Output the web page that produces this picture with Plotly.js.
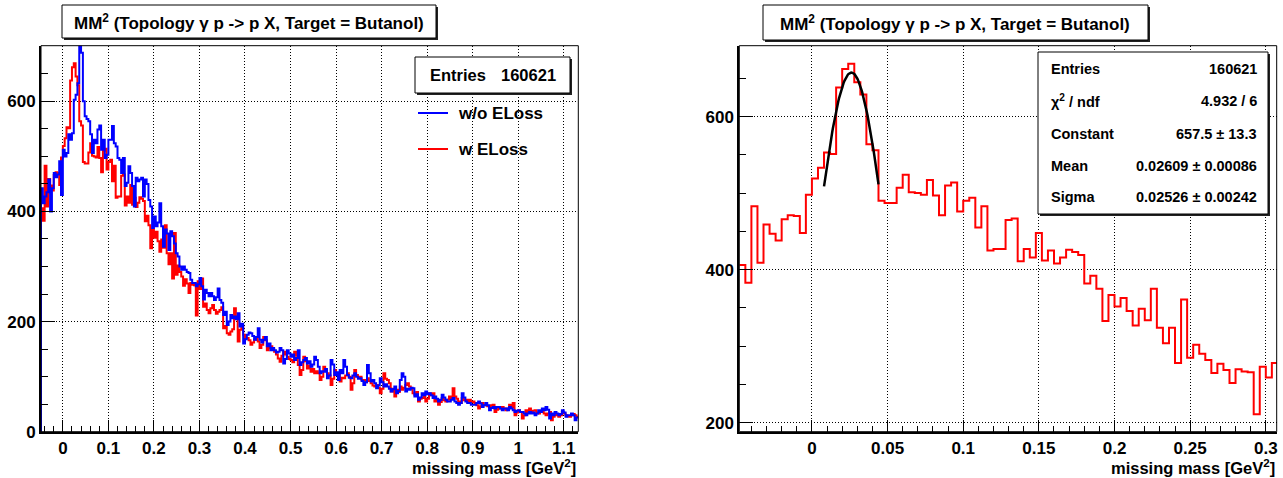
<!DOCTYPE html>
<html>
<head>
<meta charset="utf-8">
<script src="https://cdn.plot.ly/plotly-3.0.1.min.js"></script>
<style>
html,body{margin:0;padding:0;background:#fff;}
#chart{width:1283px;height:478px;}
</style>
</head>
<body>
<div id="chart"></div>
<script>
// ---------------- DATA ----------------
const binLo = -0.048;
const binWidth = 0.004;

// "w ELoss" (red) histogram counts, 295 bins from binLo
const countsWithELoss = [
406,383,483,409,459,447,438,466,471,470,
448,498,519,533,553,551,638,662,669,645,
629,564,556,490,487,487,507,524,501,500,
498,517,497,471,510,514,476,490,494,455,
483,425,427,427,465,467,411,427,416,448,
412,425,408,416,426,423,419,382,392,375,
333,367,352,363,346,327,349,334,375,324,
304,324,278,361,285,302,290,282,265,277,
269,252,270,267,266,211,273,259,278,
227,233,221,215,
224,230,221,214,218,221,226,188,192,179,
176,182,186,224,206,164,185,190,176,170,
170,166,158,162,167,172,164,152,158,172,
166,148,152,155,150,145,140,133,127,138,
145,140,136,132,130,126,145,138,121,103,
112,136,128,115,120,109,114,106,110,106,
94,100,118,112,106,102,85,96,112,106,
103,91,98,97,102,106,100,76,88,112,
103,98,100,94,94,90,97,92,88,84,
82,85,80,70,78,106,96,94,88,73,
78,64,76,72,
82,76,80,85,88,82,78,70,67,72,
55,60,61,66,55,60,70,66,70,55,
58,49,54,61,57,55,58,64,60,79,
64,60,55,52,61,57,58,55,58,54,
55,52,48,42,46,52,48,49,46,45,
48,49,36,40,42,45,45,42,39,42,
49,45,52,30,35,39,36,24,30,39,
36,42,36,38,39,35,33,36,36,33,
30,33,36,21,27,30,32,27,30,36,
33,30,28,27,30,32,30,27
];

// "w/o ELoss" (blue) histogram counts, 295 bins from binLo
const countsWithoutELoss = [
442,415,427,435,458,400,442,470,462,467,
491,430,512,500,506,540,530,542,603,612,
633,705,688,600,573,568,564,540,506,530,
524,549,556,512,530,497,503,530,530,555,
524,518,497,494,470,497,446,452,482,470,
446,409,461,455,458,461,427,458,450,421,
409,370,391,373,380,415,373,336,367,360,
330,364,355,342,324,318,300,294,300,294,
290,288,276,270,270,264,268,279,264,240,
258,252,246,
252,246,239,244,260,239,234,212,218,194,
200,212,206,209,204,215,191,196,160,168,
176,180,179,174,167,172,188,167,162,167,
172,155,160,148,152,148,144,145,152,148,
124,132,148,142,136,140,130,134,148,121,
126,130,134,124,128,118,122,136,130,118,
106,110,109,114,97,102,130,122,103,108,
94,112,106,130,118,103,98,97,102,106,
100,96,97,92,85,90,121,106,91,94,
88,79,84,97,90,82,86,82,78,73,
77,82,70,74,
94,106,100,73,78,76,80,79,64,68,
58,62,70,66,73,68,70,66,61,64,
60,55,58,67,62,58,55,55,58,61,
55,52,49,52,70,62,55,52,52,49,
49,49,52,55,51,45,48,52,48,39,
43,45,42,45,45,42,39,42,42,39,
45,42,39,36,38,39,36,36,33,30,
33,36,33,35,30,33,39,36,42,39,
45,40,24,33,30,36,33,30,32,39,
35,27,30,30,33,30,21,26
];

const seriesNames = ["w/o ELoss", "w ELoss"];
const entries = 160621;

// Gaussian fit results (right panel)
const fitConstant = 657.5, fitConstantErr = 13.3;
const fitMean = 0.02609, fitMeanErr = 0.00086;
const fitSigma = 0.02526, fitSigmaErr = 0.00242;
const fitChi2 = 4.932, fitNdf = 6;
const fitRange = [0.008, 0.044];

const titleText = "MM<sup>2</sup> (Topology γ p -&gt; p X, Target = Butanol)";
const xTitleText = "missing mass [GeV<sup>2</sup>]";

// ---------------- HELPERS ----------------
const W = 1283, H = 478;
const px = x => x / W;
const py = y => 1 - y / H;
const FONT = "Liberation Sans, Arial, Helvetica, sans-serif";

function steps(counts, fromZero) {
  const xs = [], ys = [];
  if (fromZero) { xs.push(binLo); ys.push(0); }
  for (let i = 0; i < counts.length; i++) { xs.push(binLo + i * binWidth); ys.push(counts[i]); }
  xs.push(binLo + counts.length * binWidth); ys.push(counts[counts.length - 1]);
  return {xs, ys};
}

const redL = steps(countsWithELoss, true);
const blueL = steps(countsWithoutELoss, true);
const redR = steps(countsWithELoss, false);

const fitX = [], fitY = [];
for (let k = 0; k <= 80; k++) {
  const x = fitRange[0] + (fitRange[1] - fitRange[0]) * k / 80;
  fitX.push(x);
  fitY.push(fitConstant * Math.exp(-0.5 * Math.pow((x - fitMean) / fitSigma, 2)));
}

const traces = [
  {x: redL.xs, y: redL.ys, xaxis: 'x', yaxis: 'y', mode: 'lines', line: {shape: 'hv', color: '#ff0000', width: 2}, name: seriesNames[1], showlegend: false, hoverinfo: 'skip'},
  {x: blueL.xs, y: blueL.ys, xaxis: 'x', yaxis: 'y', mode: 'lines', line: {shape: 'hv', color: '#0000ff', width: 2}, name: seriesNames[0], showlegend: false, hoverinfo: 'skip'},
  {x: redR.xs, y: redR.ys, xaxis: 'x2', yaxis: 'y2', mode: 'lines', line: {shape: 'hv', color: '#ff0000', width: 2}, name: seriesNames[1], showlegend: false, hoverinfo: 'skip'},
  {x: fitX, y: fitY, xaxis: 'x2', yaxis: 'y2', mode: 'lines', line: {color: '#000000', width: 2.5}, showlegend: false, hoverinfo: 'skip'}
];

const TICKFONT = {family: FONT, size: 17, color: '#000', weight: 700};

function xax(domain, range, dtick, minor) {
  return {
    domain: domain, range: range, dtick: dtick, tick0: 0,
    ticks: 'inside', ticklen: 12, tickwidth: 1, tickcolor: '#000',
    minor: {dtick: minor, ticks: 'inside', ticklen: 6, tickwidth: 1, tickcolor: '#000', showgrid: false},
    showgrid: true, gridcolor: '#000', griddash: '1px,2px', gridwidth: 1,
    showline: true, linecolor: '#000', linewidth: 2,
    zeroline: false, fixedrange: true,
    tickfont: TICKFONT
  };
}
function yax(domain, range, anchor) {
  return {
    domain: domain, range: range, dtick: 200, tick0: 0, anchor: anchor,
    ticks: 'inside', ticklen: 14, tickwidth: 1, tickcolor: '#000',
    minor: {dtick: 50, ticks: 'inside', ticklen: 7, tickwidth: 1, tickcolor: '#000', showgrid: false},
    showgrid: true, gridcolor: '#000', griddash: '1px,2px', gridwidth: 1,
    showline: true, linecolor: '#000', linewidth: 2,
    zeroline: false, fixedrange: true,
    tickfont: TICKFONT
  };
}

const yDom = [py(431.7), py(45.7)];
const layout = {
  width: W, height: H,
  margin: {l: 0, r: 0, t: 0, b: 0},
  paper_bgcolor: '#fff', plot_bgcolor: '#fff',
  showlegend: false,
  xaxis: Object.assign(xax([px(41), px(578.3)], [-0.048, 1.132], 0.1, 0.02), {anchor: 'y'}),
  yaxis: yax(yDom, [0, 701], 'x'),
  xaxis2: Object.assign(xax([px(739.3), px(1276.7)], [-0.048, 0.3072], 0.05, 0.01), {anchor: 'y2'}),
  yaxis2: yax(yDom, [188.3, 692.6], 'x2'),
  shapes: [],
  annotations: []
};

function rect(x0, y0, x1, y1, opts) {
  layout.shapes.push(Object.assign({type: 'rect', xref: 'paper', yref: 'paper', x0: px(x0), x1: px(x1), y0: py(y1), y1: py(y0), layer: 'above'}, opts));
}
function line(x0, y0, x1, y1, color, width) {
  layout.shapes.push({type: 'line', xref: 'paper', yref: 'paper', x0: px(x0), x1: px(x1), y0: py(y0), y1: py(y1), line: {color: color, width: width}, layer: 'above'});
}
function text(x, y, t, anchor, size) {
  layout.annotations.push({xref: 'paper', yref: 'paper', x: px(x), y: py(y), text: t, showarrow: false, xanchor: anchor, yanchor: 'middle',
    font: {family: FONT, size: size, color: '#000', weight: 700}});
}
function boxWithShadow(x0, y0, x1, y1) {
  rect(x0 + 2, y0 + 2, x1 + 2, y1 + 2, {fillcolor: '#222', line: {width: 0}});
  rect(x0, y0, x1, y1, {fillcolor: '#fff', line: {color: '#000', width: 1}});
}

// frames (top/right thin borders)
rect(41, 45.7, 578.3, 431.7, {fillcolor: 'rgba(0,0,0,0)', line: {color: '#000', width: 1}});
rect(739.3, 45.7, 1276.7, 431.7, {fillcolor: 'rgba(0,0,0,0)', line: {color: '#000', width: 1}});

// titles
boxWithShadow(62, 5, 436, 38);
text(249, 22, titleText, 'center', 17);
boxWithShadow(763, 5, 1148, 40);
text(955, 23, titleText, 'center', 17);

// left stats box
boxWithShadow(415, 57, 570, 93);
text(428, 75, 'Entries', 'left', 16.5);
text(558, 75, entries.toString(), 'right', 16.5);

// left legend
line(418, 113, 448, 113, '#0000ff', 2);
text(456, 113, seriesNames[0], 'left', 17);
line(418, 149, 448, 149, '#ff0000', 2);
text(456, 149, seriesNames[1], 'left', 17);

// right stats box
boxWithShadow(1038, 52, 1268, 214);
const rows = [
  ['Entries', entries.toString()],
  ['χ<sup>2</sup> / ndf', fitChi2.toFixed(3) + ' / ' + fitNdf],
  ['Constant', fitConstant.toFixed(1) + ' ± ' + fitConstantErr.toFixed(1)],
  ['Mean', fitMean.toFixed(5) + ' ± ' + fitMeanErr.toFixed(5)],
  ['Sigma', fitSigma.toFixed(5) + ' ± ' + fitSigmaErr.toFixed(5)]
];
const rowY = [69, 101, 134, 166, 197];
rows.forEach((r, i) => {
  text(1049, rowY[i], r[0], 'left', 14.5);
  text(1259, rowY[i], r[1], 'right', 14.5);
});

// axis titles
text(578, 467, xTitleText, 'right', 16.5);
text(1277, 467, xTitleText, 'right', 16.5);

Plotly.newPlot('chart', traces, layout, {staticPlot: true, displayModeBar: false});
</script>
</body>
</html>
